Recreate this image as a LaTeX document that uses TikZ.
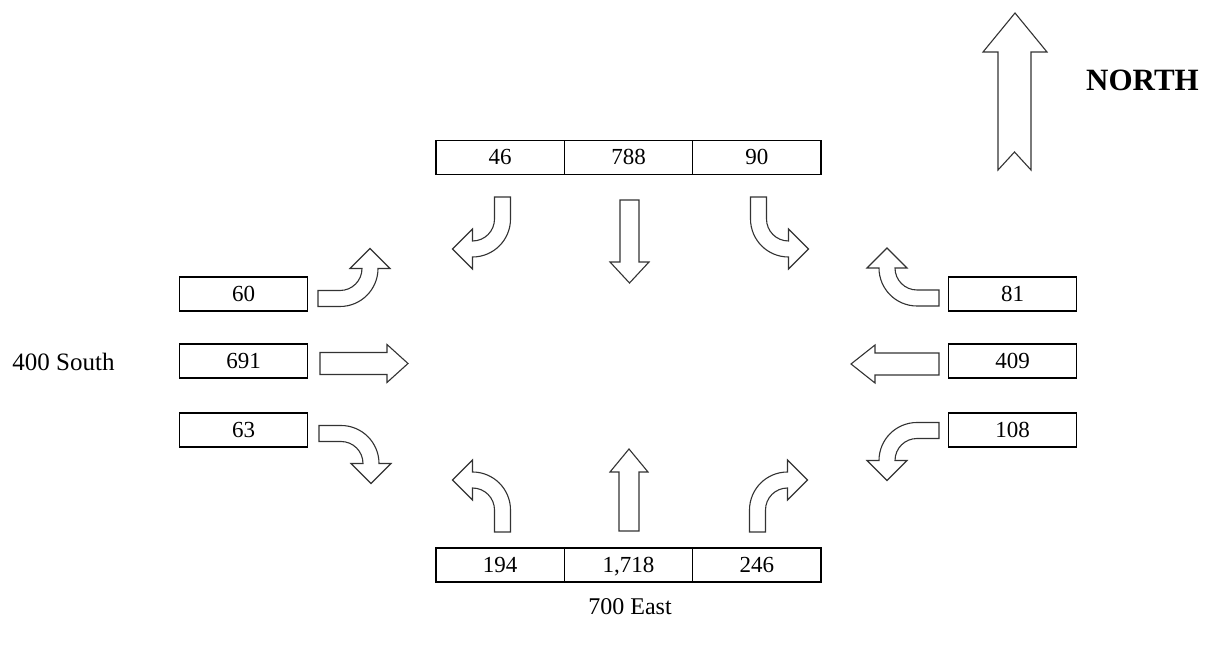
\documentclass[tikz,border=0pt]{standalone}
\usepackage{fontspec}
\setmainfont{Liberation Serif}
\begin{document}
\begin{tikzpicture}[x=1pt,y=1pt,
  cell/.style={draw=black,line width=1.3pt,minimum width=128.3pt,minimum height=34pt,
    inner sep=0pt,text height=15pt,text depth=0pt,font=\fontsize{23}{27}\selectfont},
  arrowline/.style={draw=black!80,line width=1.1pt,fill=white,line join=miter},
  lbl/.style={inner sep=0pt},
  turnarrow/.pic={\path[arrowline] (0,-8) -- (22,-8) arc[start angle=-90,end angle=0,radius=38]
      -- (72,30) -- (52,50) -- (32,30) -- (44,30) arc[start angle=0,end angle=-90,radius=22]
      -- (0,8) -- cycle;}]
\useasboundingbox (0,0) rectangle (1216,654);
\begin{scope}[shift={(0,654)},yscale=-1]
% top boxes
\node[cell] (n1) at (500.2,157.5) {46};
\node[cell] (n2) at (628.5,157.5) {788};
\node[cell] (n3) at (756.8,157.5) {90};
% bottom boxes
\node[cell] (s1) at (500.2,565) {194};
\node[cell] (s2) at (628.5,565) {1,718};
\node[cell] (s3) at (756.8,565) {246};
% left boxes
\node[cell] (w1) at (243.5,294) {60};
\node[cell] (w2) at (243.5,361) {691};
\node[cell] (w3) at (243.5,430) {63};
% right boxes
\node[cell] (e1) at (1012.5,294) {81};
\node[cell] (e2) at (1012.5,361) {409};
\node[cell] (e3) at (1012.5,430) {108};
% labels
\node[lbl,font=\fontsize{25}{29}\selectfont] (lw) at (63.5,362) {400 South};
\node[lbl,font=\fontsize{24}{28}\selectfont] (ls) at (630,607) {700 East};
\node[lbl,font=\fontsize{31}{35}\selectfont\bfseries] (ln) at (1142.5,80) {NORTH};
% straight arrows
\path[arrowline] (620,200) -- (639,200) -- (639,262) -- (649,262) -- (629.5,283) -- (610,262) -- (620,262) -- cycle;
\path[arrowline] (619,531) -- (639,531) -- (639,472) -- (648,472) -- (629,449) -- (610,472) -- (619,472) -- cycle;
\path[arrowline] (320,352.5) -- (387,352.5) -- (387,344.5) -- (408,363.5) -- (387,382.5) -- (387,374.5) -- (320,374.5) -- cycle;
\path[arrowline] (939,353) -- (875,353) -- (875,345) -- (851,364) -- (875,383) -- (875,375) -- (939,375) -- cycle;
% north arrow
\path[arrowline] (998,170) -- (998,52) -- (983,52) -- (1015,13) -- (1047,52) -- (1031,52) -- (1031,170) -- (1014.5,152) -- cycle;
% turn arrows (pic orientation in canvas frame, y up)
\pic[rotate=-90,yscale=-1] at (502.5,197) {turnarrow};
\pic[rotate=-90] at (758.5,197) {turnarrow};
\pic at (318,298.5) {turnarrow};
\pic[yscale=-1] at (319,433.5) {turnarrow};
\pic[xscale=-1] at (939,298) {turnarrow};
\pic[rotate=180] at (939,430.5) {turnarrow};
\pic[rotate=90] at (502.5,532) {turnarrow};
\pic[rotate=90,yscale=-1] at (757.5,532) {turnarrow};
\end{scope}
\end{tikzpicture}
\end{document}
